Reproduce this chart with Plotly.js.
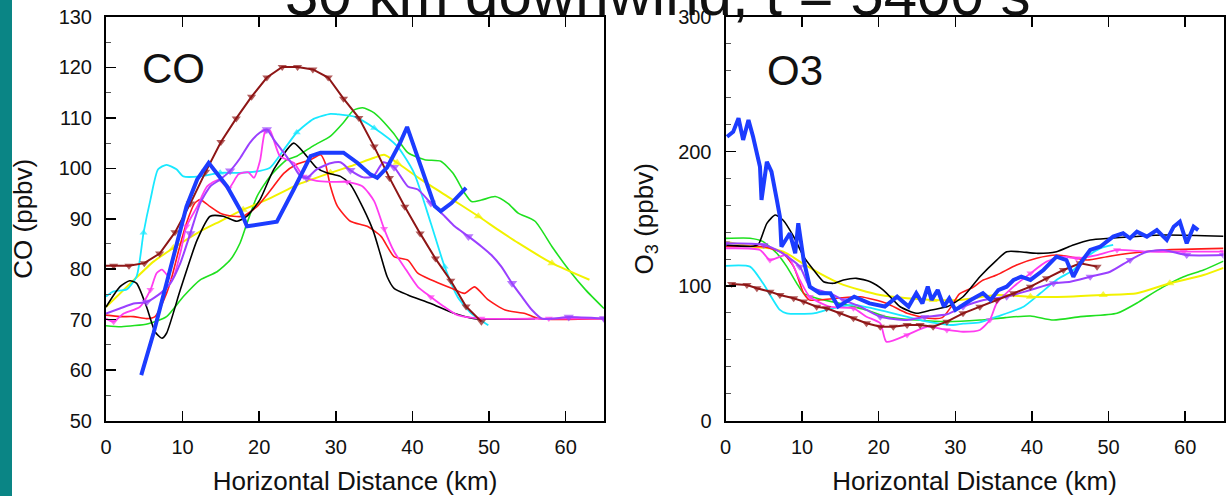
<!DOCTYPE html>
<html>
<head>
<meta charset="utf-8">
<script src="https://cdn.plot.ly/plotly-3.0.1.min.js"></script>
<style>html,body{margin:0;padding:0;background:#fff;}#chart{width:1230px;height:496px;}</style>
</head>
<body>
<div id="chart"></div>
<script>
// ---------------- CO panel (ppbv) ----------------
const coBlackX = [0, 1.8, 3.1, 4.0, 5.3, 6.4, 7.3, 7.9, 9.7, 11.9, 13.6, 15.3, 17.1, 18.4, 20.1, 21.9, 24.5, 26.2, 27.5, 28.8, 30.6, 31.9, 33.6, 34.9, 35.8, 36.7, 37.6, 39.4, 42.4, 45.5, 48.1, 56];
const coBlackY = [72.5, 76.5, 77.7, 77.2, 72.5, 67.6, 66.3, 67.3, 75.9, 85.8, 90.5, 90.5, 89.5, 90.5, 93.8, 99.8, 105.0, 102.4, 100.1, 99.1, 98.4, 96.8, 92.0, 87.5, 83.0, 78.5, 76.2, 74.9, 73.2, 71.2, 70.2, 70.2];

const coRedX = [0, 1.8, 3.6, 5.3, 6.4, 7.9, 8.6, 9.5, 10.5, 11.6, 12.3, 13.6, 14.9, 16.6, 17.9, 19.7, 21.4, 23.2, 24.9, 26.7, 28.0, 28.6, 29.3, 30.2, 31.9, 34.1, 35.9, 37.6, 39.4, 40.7, 42.4, 45.1, 46.8, 48.1, 49.9, 52.1, 54.7, 56.5, 65];
const coRedY = [70.9, 70.6, 70.6, 70.2, 70.6, 75.2, 78.5, 83.8, 89.1, 93.1, 93.8, 92.4, 91.1, 90.5, 90.5, 92.4, 95.5, 99.0, 100.8, 101.7, 102.7, 101.1, 96.4, 92.5, 89.5, 88.5, 86.5, 82.5, 81.8, 79.2, 77.9, 76.2, 75.2, 76.5, 73.9, 71.9, 71.2, 70.2, 70.2];

const coGreenX = [0, 2, 5.5, 7.9, 10.1, 12.3, 14.5, 16.2, 17.5, 18.4, 19.7, 21.4, 23.6, 24.9, 27.1, 29.3, 31.0, 32.3, 33.5, 35.0, 37.5, 39.4, 41.6, 43.7, 45.3, 46.8, 47.7, 49, 50.8, 52.5, 53.8, 56, 58.2, 60.4, 62.6, 65];
const coGreenY = [68.8, 68.6, 69.2, 70.6, 74.6, 77.9, 79.5, 81.8, 85.2, 89.1, 94.4, 98.4, 101.7, 102.4, 104.5, 106.4, 109.1, 111.5, 112.0, 111.0, 107.0, 103.1, 101.7, 101.4, 99.0, 95.1, 93.4, 93.7, 94.4, 93.0, 91.1, 89.5, 84.5, 79.9, 75.9, 72.2];

const coCyanX = [0, 1.0, 2.7, 4.0, 4.9, 5.8, 6.8, 7.9, 9.2, 10.1, 12.3, 14.9, 17.5, 20.1, 21.4, 23.6, 24.9, 27.1, 29.3, 30.2, 32.5, 35.0, 38.0, 40.2, 42.4, 44.2, 45.9, 47.7, 49.9];
const coCyanY = [74.6, 75.6, 76.0, 78.6, 87.2, 93.8, 99.8, 100.7, 99.8, 98.4, 98.4, 99.1, 99.1, 99.5, 100.1, 104.5, 107.1, 109.8, 110.8, 110.7, 110.2, 108.0, 104.4, 99.1, 89.1, 80.5, 74.5, 71.2, 68.9];

const coBlueX = [4.6, 6.2, 7.9, 9.2, 10.5, 11.9, 13.4, 15.8, 17.5, 18.4, 22.3, 24.5, 25.4, 26.7, 28.0, 31.0, 32.8, 34.5, 35.4, 36.7, 38.4, 39.3, 41.1, 42.9, 43.7, 45.1, 47.0];
const coBlueY = [59.0, 67.3, 77.2, 85.2, 92.4, 97.8, 101.1, 96.4, 91.8, 88.5, 89.4, 95.8, 98.4, 102.4, 103.1, 103.1, 101.1, 98.8, 98.1, 100.2, 105.1, 108.2, 100.4, 92.5, 91.5, 93.1, 96.1];

const coMagentaX = [0, 1, 2.3, 4.4, 5.8, 6.6, 7.3, 8.6, 9.7, 10.5, 11.9, 13.2, 14.7, 16.0, 17.3, 18.6, 19.3, 20.1, 20.8, 21.4, 22.7, 24.5, 25.8, 27.5, 29.3, 31.5, 33.5, 35.0, 36.3, 37.6, 38.9, 40.7, 42.4, 44.2, 45.9, 49, 57.8, 65];
const coMagentaY = [70.2, 69.6, 71.2, 72.5, 75.9, 79.2, 79.9, 77.9, 83.2, 88.5, 92.4, 96.4, 97.7, 96.0, 98.8, 99.2, 98.1, 101.5, 107.4, 107.5, 102.4, 101.1, 98.4, 97.5, 97.3, 97.3, 96.4, 93.5, 88.0, 83.5, 80.5, 76.5, 74.5, 72.5, 70.9, 70.2, 70.2, 70.2];

const coPurpleX = [0, 1.8, 3.6, 5.3, 7.1, 8.4, 9.7, 11, 12.3, 13.6, 14.9, 16.2, 17.5, 18.8, 20.1, 21, 21.9, 23.2, 24.5, 25.4, 26.2, 27.5, 29.3, 30.6, 31.9, 33.6, 34.9, 36.2, 37.6, 39.4, 40.7, 42.4, 44.2, 45.5, 47.3, 49, 50.3, 51.6, 53, 54.3, 55.6, 56.9, 60.4, 65];
const coPurpleY = [71.2, 72.2, 73.2, 73.5, 75.2, 77.2, 81.2, 87.1, 93.1, 96.4, 97.8, 99.5, 102.0, 105.1, 107.1, 107.7, 105.7, 103.1, 100.4, 98.4, 98.1, 99.8, 101.0, 101.2, 99.6, 98.2, 98.4, 101.2, 100.2, 96.4, 95.8, 93.1, 90.5, 88.5, 86.5, 84.5, 82.8, 80.5, 77.2, 74.5, 71.9, 70.2, 70.5, 70.2];

const coYellowX = [0, 3.4, 6.2, 8.8, 12.3, 14.9, 17.9, 21, 25.4, 29.3, 31.9, 35, 36.3, 38, 41.1, 44.6, 48.6, 51.2, 53.8, 58.2, 63.1];
const coYellowY = [72.5, 77.5, 81.5, 84.2, 87.5, 89.5, 91.8, 93.8, 97.0, 99.1, 100.4, 102.1, 102.7, 101.1, 97.8, 94.4, 90.5, 87.8, 85.2, 81.2, 77.9];

const coBrownX = [0, 1, 3, 5, 7, 9, 11, 13, 15, 17, 19, 21, 23, 25, 27, 29, 31, 33, 35, 37, 39, 41, 43, 45, 47, 49];
const coBrownY = [80.7, 80.7, 80.7, 81.2, 83.1, 87.3, 93.0, 99.3, 105.2, 109.9, 114.2, 118.0, 120.1, 120.1, 119.6, 118.0, 113.8, 110.0, 104.3, 98.1, 92.4, 87.1, 82.1, 77.7, 72.6, 69.6];

// ---------------- O3 panel (ppbv) ----------------
const o3BlackX = [0, 3.6, 4.3, 5.4, 6.5, 7.5, 8.9, 10.2, 11.5, 12.8, 14.1, 15.4, 17.1, 18.9, 20.6, 21.9, 22.8, 24.9, 26.9, 29, 31, 33.2, 35.4, 36.7, 38.4, 40.6, 43.2, 45.4, 47.6, 50.2, 57.2, 65];
const o3BlackY = [130.4, 129.5, 131, 146.6, 152.8, 149.1, 136.7, 121.8, 111.9, 103.2, 102, 104.5, 105.7, 103.2, 97, 89.6, 84.6, 79.7, 82.2, 84.7, 92, 106.9, 119.3, 125.5, 125.5, 124.3, 125.5, 130.5, 134.2, 135.5, 137.9, 137];

const o3RedX = [0, 5, 7.5, 8.9, 10.2, 11, 14.5, 17.6, 21, 23.7, 26.5, 28.3, 29.5, 30.5, 32.3, 33.5, 35.4, 38, 40.6, 43.2, 45, 47.2, 49.8, 52.8, 57.2, 65];
const o3RedY = [129.2, 129.2, 124.3, 114.4, 94.6, 89.6, 90.9, 92, 87.1, 79.7, 76, 76.5, 85, 94, 99, 104, 108.2, 115.6, 120.6, 123, 121.8, 119.3, 121.8, 124.3, 126.8, 128];

const o3GreenX = [0, 3.2, 4.9, 6.7, 8, 9.3, 10.2, 11.9, 14.9, 18.4, 21, 25, 28.9, 33.2, 36.5, 39.8, 42.8, 46.3, 51.1, 53.9, 55, 57.2, 59.8, 62.4, 65];
const o3GreenY = [135.4, 135.5, 133, 124.3, 114.4, 102, 94.6, 90.9, 87.1, 82.2, 77.2, 74.7, 73.5, 74.7, 76.5, 77.7, 74.7, 77.2, 79.7, 88, 92, 99.5, 106.9, 111.9, 118.5];

const o3CyanX = [0, 3.2, 4.9, 7.1, 8, 11.5, 13.2, 16.7, 21, 25.4, 29.7, 31, 33.2, 35.4, 38.9, 41.1, 43.2, 45.4, 47.2, 48.9, 50.6];
const o3CyanY = [115, 114.4, 102, 82.2, 79.7, 79.7, 82.2, 85.9, 80.9, 74.7, 71, 72, 73, 77.2, 84.6, 94.6, 104.5, 111.9, 121.8, 128, 130.5];

const o3BlueX = [0.2, 1, 1.7, 2.3, 3.0, 3.6, 4.5, 4.7, 5.4, 6.0, 6.7, 7.1, 7.3, 8.4, 9.1, 9.5, 10.2, 11.0, 12.3, 13.7, 14.7, 16.8, 18.8, 20.8, 22.4, 23.9, 24.9, 25.7, 26.4, 26.9, 27.7, 28.5, 29.2, 30, 32, 33.6, 34.6, 35.6, 36.7, 37.6, 38.6, 39.8, 41.5, 43.2, 44.5, 45.4, 46.3, 47.6, 48.9, 50.6, 51.9, 52.8, 53.7, 55, 56.3, 57.6, 58.5, 59.3, 60.2, 61.1, 61.7];
const o3BlueY = [211, 214.6, 224.7, 208.6, 223.4, 211, 188.7, 164, 192.4, 185, 164, 151.5, 129.2, 139.2, 124.3, 146.6, 119.3, 99.5, 94.6, 94.6, 84.7, 92.1, 87.1, 84.7, 92.1, 84.7, 94.6, 87.1, 99.5, 89.6, 97, 84.7, 90.8, 82.2, 89.6, 94.6, 89.6, 97, 99.5, 104.5, 106.9, 104.5, 111.9, 121.8, 119.3, 106.9, 116.9, 126.8, 129.2, 136.7, 139.2, 135.5, 140.4, 136.7, 141.6, 134.2, 144.1, 147.8, 131.7, 144.1, 141.6];

const o3MagentaX = [0, 4.5, 5.8, 8, 9.7, 11, 13.6, 16.7, 18.4, 20.2, 21, 23.7, 26.3, 28.9, 31, 33.2, 34.5, 35.4, 37.6, 39.8, 41.9, 44.1, 45.8, 48.5, 51.1, 55, 59.8, 65];
const o3MagentaY = [128, 126.8, 119.3, 123, 104.5, 92, 84.6, 83.4, 77.2, 72.3, 58.6, 63.6, 69.7, 67.3, 66, 67.3, 74.7, 87.1, 99.5, 109.4, 118.1, 121.8, 120.6, 123, 126.8, 125.5, 125.5, 125.5];

const o3PurpleX = [0, 5, 7.1, 9.7, 11, 13.6, 15.4, 17.6, 20.2, 23.7, 26, 28.9, 31, 33.7, 36.7, 39.8, 42.8, 45, 47.6, 50.2, 52.8, 55, 57.2, 60.2, 65];
const o3PurpleY = [131.7, 130.5, 125.5, 114.4, 99.5, 94.6, 89.6, 84.6, 77.2, 74.7, 77, 79, 84.6, 89.6, 92, 97, 102, 103.2, 106.9, 110.6, 119.3, 125.5, 126.8, 123, 123];

const o3YellowX = [0, 3.6, 5.8, 8, 9.7, 12.3, 14.9, 17.6, 20.2, 23.7, 27.1, 30.6, 35.4, 39.8, 44.5, 49.3, 53.7, 58, 62.4, 65];
const o3YellowY = [133, 129.2, 128, 124.3, 118.1, 109.4, 102, 97, 93.3, 90.9, 89.6, 89.6, 93.3, 92, 92, 93.3, 94.6, 102, 108.2, 113.5];

const o3BrownX = [0.8, 2.8, 4.1, 5.8, 7.1, 8.9, 10.2, 11.9, 13.2, 14.9, 16.7, 18.4, 20.2, 21.9, 23.7, 25.4, 27.1, 28.9, 31, 33.2, 35.4, 37.6, 39.8, 41.9, 44.1, 46.3, 48.5];
const o3BrownY = [101.5, 100.7, 98.3, 95.8, 93.3, 90.9, 88.4, 84.6, 83.4, 79.7, 76, 72.3, 69.7, 69.7, 71, 71, 69.7, 73.5, 79.7, 84.6, 89.6, 94.6, 99.5, 105.7, 111.9, 116.9, 114.4];

const xTickVals = [0, 10, 20, 30, 40, 50, 60];
const coTickVals = [50, 60, 70, 80, 90, 100, 110, 120, 130];
const o3TickVals = [0, 100, 200, 300];

// ---------------- styles ----------------
const C = {
  black: '#000000', red: '#ff1a1a', green: '#1fe01f', cyan: '#19e8ff', blue: '#1c3cff',
  magenta: '#ff3cf0', purple: '#9a40ff', yellow: '#f2f200', brown: '#8e1616'
};

// marker sizes: mark points roughly every `gap` km (0 => every point)
function markSizes(xs, gap, size, start) {
  if (!gap) return xs.map(() => size);
  let next = start;
  return xs.map(x => {
    if (x >= next) { next = x + gap; return size; }
    return 0;
  });
}

function tr(xs, ys, color, width, ax, opts) {
  opts = opts || {};
  const t = {
    type: 'scatter', x: xs, y: ys, xaxis: ax[0], yaxis: ax[1],
    mode: opts.symbol ? 'lines+markers' : 'lines',
    line: { color: color, width: width, shape: opts.linear ? 'linear' : 'spline', smoothing: 0.6 },
    hoverinfo: 'skip', showlegend: false, cliponaxis: true
  };
  if (opts.symbol) {
    t.marker = { symbol: opts.symbol, color: color, size: markSizes(xs, opts.gap, opts.size || 8, opts.start || 0), line: { width: 0 } };
  }
  return t;
}

const A1 = ['x', 'y'], A2 = ['x2', 'y2'];
const traces = [
  tr(coGreenX, coGreenY, C.green, 1.6, A1),
  tr(coYellowX, coYellowY, C.yellow, 2, A1, { symbol: 'triangle-up', gap: 8.5, start: 8, size: 8 }),
  tr(coCyanX, coCyanY, C.cyan, 1.8, A1, { symbol: 'triangle-up', gap: 9, start: 4.8, size: 7 }),
  tr(coRedX, coRedY, C.red, 1.6, A1),
  tr(coBlackX, coBlackY, C.black, 1.6, A1),
  tr(coMagentaX, coMagentaY, C.magenta, 1.8, A1, { symbol: 'triangle-down', gap: 4.6, start: 1, size: 7 }),
  tr(coPurpleX, coPurpleY, C.purple, 2, A1, { symbol: 'triangle-down', gap: 4.6, start: 5, size: 9 }),
  tr(coBrownX, coBrownY, C.brown, 2, A1, { symbol: 'triangle-down', gap: 1.9, start: 1, size: 8, linear: true }),
  tr(coBlueX, coBlueY, C.blue, 4, A1, { linear: true }),

  tr(o3GreenX, o3GreenY, C.green, 1.6, A2),
  tr(o3CyanX, o3CyanY, C.cyan, 1.8, A2),
  tr(o3YellowX, o3YellowY, C.yellow, 2, A2, { symbol: 'triangle-up', gap: 8.5, start: 26, size: 8 }),
  tr(o3RedX, o3RedY, C.red, 1.6, A2),
  tr(o3BlackX, o3BlackY, C.black, 1.6, A2),
  tr(o3MagentaX, o3MagentaY, C.magenta, 1.8, A2, { symbol: 'triangle-down', gap: 4.6, start: 5.5, size: 7 }),
  tr(o3PurpleX, o3PurpleY, C.purple, 2, A2, { symbol: 'triangle-down', gap: 4.6, start: 0, size: 8 }),
  tr(o3BrownX, o3BrownY, C.brown, 2, A2, { symbol: 'triangle-down', gap: 0, size: 8, linear: true }),
  tr(o3BlueX, o3BlueY, C.blue, 4, A2, { linear: true })
];

const W = 1230, H = 496;
const FONT = 'Liberation Sans, Arial, Helvetica, sans-serif';
const yDom = [(H - 420.5) / H, (H - 17) / H];

function xAxis(dom) {
  return {
    domain: dom, range: [0, 65], tickmode: 'array', tickvals: xTickVals,
    ticks: 'inside', ticklen: 10, tickwidth: 1.5, tickcolor: '#000',
    showline: true, linewidth: 2, linecolor: '#000', mirror: 'ticks',
    showgrid: false, zeroline: false, fixedrange: true,
    tickfont: { family: FONT, size: 20, color: '#111' }, ticklabelstandoff: 7,
    title: { text: 'Horizontal Distance (km)', font: { family: FONT, size: 26, color: '#111' }, standoff: 15 }
  };
}
function yAxis(anchor, range, vals, minorStep, titleText, standoff) {
  return {
    anchor: anchor, domain: yDom, range: range, tickmode: 'array', tickvals: vals,
    ticks: 'inside', ticklen: 10, tickwidth: 1.5, tickcolor: '#000',
    minor: { dtick: minorStep, tick0: 0, ticks: 'inside', ticklen: 5, tickwidth: 1, tickcolor: '#555', showgrid: false },
    showline: true, linewidth: 2, linecolor: '#000', mirror: true,
    showgrid: false, zeroline: false, fixedrange: true,
    tickfont: { family: FONT, size: 20, color: '#111' }, ticklabelstandoff: 8,
    title: { text: titleText, font: { family: FONT, size: 26, color: '#111' }, standoff: standoff }
  };
}

const layout = {
  width: W, height: H,
  margin: { l: 0, r: 0, t: 0, b: 0, pad: 0 },
  paper_bgcolor: '#ffffff', plot_bgcolor: '#ffffff',
  showlegend: false,
  xaxis: Object.assign(xAxis([106 / W, 604 / W]), { anchor: 'y' }),
  yaxis: yAxis('x', [50, 130], coTickVals, 5, 'CO (ppbv)', 19),
  xaxis2: Object.assign(xAxis([725.5 / W, 1223.5 / W]), { anchor: 'y2' }),
  yaxis2: yAxis('x2', [0, 300], o3TickVals, 20, 'O<sub>3</sub> (ppbv)', 17),
  shapes: [
    { type: 'rect', xref: 'paper', yref: 'paper', x0: 0, x1: 12 / W, y0: 0, y1: 1, fillcolor: '#0a8585', line: { width: 0 }, layer: 'below' }
  ],
  annotations: [
    { text: 'CO', xref: 'paper', yref: 'paper', x: 174 / W, y: 1 - 68 / H, xanchor: 'center', yanchor: 'middle', showarrow: false, font: { family: FONT, size: 42, color: '#111' } },
    { text: 'O3', xref: 'paper', yref: 'paper', x: 795 / W, y: 1 - 70 / H, xanchor: 'center', yanchor: 'middle', showarrow: false, font: { family: FONT, size: 42, color: '#111' } },
    { text: '30 km downwind, t = 5400 s', xref: 'paper', yref: 'paper', x: 657 / W, y: 1 - 14 / H, xanchor: 'center', yanchor: 'bottom', yshift: -16, showarrow: false, font: { family: FONT, size: 60, color: '#111' } }
  ]
};

Plotly.newPlot('chart', traces, layout, { staticPlot: true, displayModeBar: false });
</script>
</body>
</html>
